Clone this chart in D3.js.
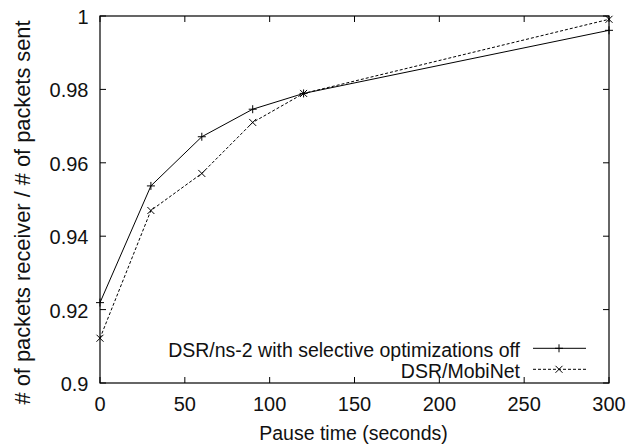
<!DOCTYPE html>
<html>
<head>
<meta charset="utf-8">
<script src="https://cdn.jsdelivr.net/npm/d3@7"></script>
<style>
  body { margin: 0; background: #fff; }
  svg { font-family: "Liberation Sans", Arial, sans-serif; }
  text { fill: #111; }
</style>
</head>
<body>
<svg id="chart" width="626" height="445"></svg>
<script>
// data
var pauseTimes = [0, 30, 60, 90, 120, 300];
var ns2Values = [0.9219, 0.9537, 0.9671, 0.9746, 0.9789, 0.9961];
var mobiNetValues = [0.9122, 0.947, 0.9571, 0.971, 0.9789, 0.9991];
var seriesNames = ['DSR/ns-2 with selective optimizations off', 'DSR/MobiNet'];
var xTicks = [0, 50, 100, 150, 200, 250, 300];
var yTicks = [0.9, 0.92, 0.94, 0.96, 0.98, 1];

var margin = { left: 100, right: 17, top: 16, bottom: 62 };
var width = 626, height = 445;

var svg = d3.select('#chart');
var x = d3.scaleLinear().domain([0, 300]).range([margin.left, width - margin.right]);
var y = d3.scaleLinear().domain([0.9, 1]).range([height - margin.bottom, margin.top]);

var tickLen = 6;
var fs = 20;    // tick labels
var fsText = 19.5; // x title + legend

// frame
svg.append('rect')
    .attr('x', x(0)).attr('y', y(1))
    .attr('width', x(300) - x(0)).attr('height', y(0.9) - y(1))
    .attr('fill', 'none').attr('stroke', '#000').attr('stroke-width', 1.2);

// ticks, inward on all four sides
var ticks = svg.append('g').attr('stroke', '#000').attr('stroke-width', 1);
xTicks.forEach(t => {
    ticks.append('line').attr('x1', x(t)).attr('x2', x(t)).attr('y1', y(0.9)).attr('y2', y(0.9) - tickLen);
    ticks.append('line').attr('x1', x(t)).attr('x2', x(t)).attr('y1', y(1)).attr('y2', y(1) + tickLen);
});
yTicks.forEach(t => {
    ticks.append('line').attr('x1', x(0)).attr('x2', x(0) + tickLen).attr('y1', y(t)).attr('y2', y(t));
    ticks.append('line').attr('x1', x(300)).attr('x2', x(300) - tickLen).attr('y1', y(t)).attr('y2', y(t));
});

svg.append('g').selectAll('text').data(xTicks).join('text')
    .attr('x', d => x(d)).attr('y', y(0.9) + 28)
    .attr('text-anchor', 'middle').attr('font-size', fs)
    .text(d => d);

svg.append('g').selectAll('text').data(yTicks).join('text')
    .attr('x', x(0) - 11.5).attr('y', d => y(d) + 8)
    .attr('text-anchor', 'end').attr('font-size', fs)
    .text(d => d3.format('')(d));

svg.append('text')
    .attr('x', (x(0) + x(300)) / 2 - 1).attr('y', 440)
    .attr('text-anchor', 'middle').attr('font-size', fsText)
    .text('Pause time (seconds)');

svg.append('text')
    .attr('transform', 'translate(30,212.5) rotate(-90)')
    .attr('text-anchor', 'middle').attr('font-size', 21.8)
    .text('# of packets receiver / # of packets sent');

var series = [
    { name: seriesNames[0], values: ns2Values, dash: null, marker: 'plus' },
    { name: seriesNames[1], values: mobiNetValues, dash: '3,2', marker: 'cross' }
];

var line = d3.line().x(d => x(d[0])).y(d => y(d[1]));

function drawMarker(g, cx, cy, type) {
    var s = 4;
    if (type === 'plus') {
        g.append('line').attr('x1', cx - s).attr('x2', cx + s).attr('y1', cy).attr('y2', cy);
        g.append('line').attr('x1', cx).attr('x2', cx).attr('y1', cy - s).attr('y2', cy + s);
    } else {
        s = 3.5;
        g.append('line').attr('x1', cx - s).attr('x2', cx + s).attr('y1', cy - s).attr('y2', cy + s);
        g.append('line').attr('x1', cx - s).attr('x2', cx + s).attr('y1', cy + s).attr('y2', cy - s);
    }
}

series.forEach((s, i) => {
    var pts = pauseTimes.map((t, j) => [t, s.values[j]]);
    svg.append('path')
        .attr('d', line(pts))
        .attr('fill', 'none').attr('stroke', '#000').attr('stroke-width', 1)
        .attr('stroke-dasharray', s.dash);
    var mg = svg.append('g').attr('stroke', '#000').attr('stroke-width', 1);
    pts.forEach(p => drawMarker(mg, x(p[0]), y(p[1]), s.marker));

    // legend entry
    var ly = 348.3 + i * 21;
    svg.append('text')
        .attr('x', 520).attr('y', ly + 8.7)
        .attr('text-anchor', 'end').attr('font-size', fsText)
        .text(s.name);
    svg.append('line')
        .attr('x1', 533).attr('x2', 586).attr('y1', ly).attr('y2', ly)
        .attr('stroke', '#000').attr('stroke-width', 1)
        .attr('stroke-dasharray', s.dash);
    drawMarker(mg, 559, ly, s.marker);
});
</script>
</body>
</html>
